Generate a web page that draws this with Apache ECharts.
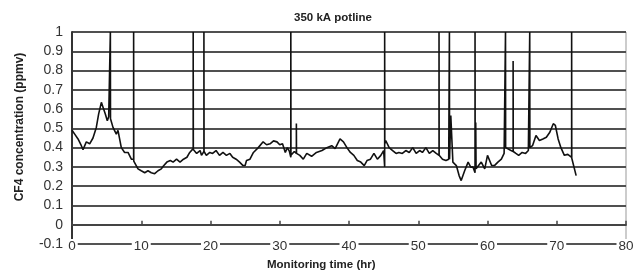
<!DOCTYPE html>
<html>
<head>
<meta charset="utf-8">
<script src="https://cdn.jsdelivr.net/npm/echarts@6/dist/echarts.min.js"></script>
<style>
html, body { margin: 0; padding: 0; background: #fff; }
#main { width: 639px; height: 273px; }
</style>
</head>
<body>
<div id="main"></div>
<script>
// monitoring time (hr) and CF4 concentration (ppmv);
// the tall spikes (anode effects) run off the top of the scale
var hours = [
    0, 0.39, 0.87, 1.35, 1.59, 2.07, 2.55, 3.03, 3.51, 3.85, 4.24, 4.48, 4.81, 5.1, 5.3,
    5.54, 5.54, 5.56, 5.92, 6.4, 6.64, 7.12, 7.6, 8.09, 8.57,
    8.9, 8.9, 8.92, 9.05, 9.53, 10.0, 10.5, 10.97, 11.45, 11.94, 12.2, 12.42, 12.9,
    13.2, 13.7, 14.2, 14.6, 15.1, 15.6, 16.1, 16.6, 17.0,
    17.5, 17.5, 17.52, 18.0, 18.5, 18.7,
    19.05, 19.05, 19.07, 19.4, 19.9, 20.3, 20.8, 21.3, 21.8, 22.3, 22.8, 23.2, 23.7, 24.2, 24.7,
    25.0, 25.2, 25.7, 26.2, 26.9, 27.6, 28.1, 28.6, 29.1, 29.6, 30.0, 30.4, 30.8, 31.1, 31.4,
    31.6, 31.6, 31.62, 32.1, 32.4, 32.4, 32.42, 32.9, 33.4, 33.9, 34.6, 35.3, 36.1, 36.8,
    37.5, 38.0, 38.7, 39.2, 39.7, 40.2, 40.7, 41.2, 41.7, 42.2, 42.6, 43.1, 43.6, 44.1, 44.6, 45.0,
    45.15, 45.15, 45.17, 45.3, 45.8, 46.3, 46.8, 47.2, 47.7, 48.2, 48.7, 49.2, 49.7, 50.2, 50.6,
    51.1, 51.6, 52.1, 52.6,
    53.0, 53.0, 53.02, 53.5, 54.0, 54.4,
    54.5, 54.5, 54.52, 54.7, 55.0, 55.5, 55.9, 56.2, 56.7, 57.2, 57.6, 57.9,
    58.2, 58.2, 58.22, 58.3, 58.35, 58.6, 59.1, 59.6, 60.0, 60.6, 61.0, 61.5, 62.0, 62.4,
    62.6, 62.6, 62.62, 62.9, 63.4, 63.7, 63.7, 63.72, 64.1, 64.5, 65.0, 65.5, 65.9,
    66.1, 66.1, 66.12, 66.5, 67.0, 67.5, 68.0, 68.5, 69.0, 69.5, 69.8, 70.2, 70.6, 71.1, 71.6,
    72.15, 72.15, 72.17, 72.4, 72.8
];
var cf4 = [
    0.49, 0.47, 0.445, 0.41, 0.39, 0.43, 0.42, 0.45, 0.505, 0.575, 0.635, 0.61, 0.575, 0.54, 0.56,
    0.57, 1, 0.55, 0.505, 0.47, 0.49, 0.40, 0.375, 0.375, 0.34,
    0.34, 1, 0.33, 0.325, 0.29, 0.28, 0.27, 0.28, 0.27, 0.265, 0.255, 0.28, 0.29,
    0.305, 0.325, 0.333, 0.325, 0.34, 0.325, 0.34, 0.35, 0.375,
    0.395, 1, 0.39, 0.37, 0.385, 0.36,
    0.38, 1, 0.38, 0.36, 0.375, 0.37, 0.385, 0.36, 0.375, 0.36, 0.37, 0.35, 0.34, 0.325, 0.307,
    0.307, 0.333, 0.34, 0.375, 0.40, 0.43, 0.415, 0.42, 0.435, 0.43, 0.415, 0.42, 0.375, 0.40, 0.38,
    0.35, 1, 0.36, 0.38, 0.37, 0.525, 0.37, 0.36, 0.34, 0.37, 0.355, 0.375, 0.385, 0.40,
    0.41, 0.395, 0.445, 0.43, 0.40, 0.375, 0.36, 0.333, 0.325, 0.307, 0.333, 0.34, 0.37, 0.34, 0.36, 0.385,
    0.30, 1, 0.42, 0.437, 0.40, 0.385, 0.37, 0.375, 0.37, 0.385, 0.375, 0.40, 0.37, 0.385, 0.375,
    0.40, 0.37, 0.385, 0.37,
    0.36, 1, 0.36, 0.34, 0.333, 0.34,
    0.34, 1, 0.34, 0.567, 0.325, 0.307, 0.255, 0.229, 0.28, 0.325, 0.298, 0.30,
    0.27, 1, 0.30, 0.53, 0.29, 0.29, 0.325, 0.29, 0.36, 0.307, 0.307, 0.325, 0.34, 0.37,
    0.38, 1, 0.40, 0.395, 0.385, 0.38, 0.85, 0.38, 0.37, 0.36, 0.375, 0.37, 0.385,
    0.39, 1, 0.40, 0.41, 0.463, 0.437, 0.445, 0.454, 0.48, 0.524, 0.515, 0.445, 0.40, 0.36, 0.365,
    0.35, 1, 0.345, 0.34, 0.255
];
var xTicks = [0, 80, 10];     // min, max, step
var yTicks = [-0.1, 1, 0.1];

var chart = echarts.init(document.getElementById('main'));

var points = [];
for (var i = 0; i < hours.length; i++) {
    points.push([hours[i], cf4[i]]);
}

var option = {
    animation: false,
    backgroundColor: '#fff',
    textStyle: { fontFamily: 'Liberation Sans, Arial, sans-serif' },
    title: [{
        text: '350 kA potline',
        left: 294,
        top: 12,
        padding: 0,
        textStyle: { fontSize: 11.5, fontWeight: 'bold', color: '#222' }
    }, {
        text: 'Monitoring time (hr)',
        left: 267,
        top: 259,
        padding: 0,
        textStyle: { fontSize: 11.5, fontWeight: 'bold', color: '#222' }
    }],
    graphic: [{
        type: 'text',
        x: 20,
        y: 127,
        rotation: Math.PI / 2,
        style: {
            text: 'CF4 concentration (ppmv)',
            font: 'bold 12px Liberation Sans, Arial, sans-serif',
            fill: '#222',
            align: 'center',
            verticalAlign: 'middle'
        }
    }],
    grid: {
        left: 72,
        right: 13,
        top: 32,
        bottom: 29,
        show: true,
        borderColor: '#999',
        borderWidth: 1
    },
    xAxis: [{
        type: 'value',
        min: xTicks[0],
        max: xTicks[1],
        interval: xTicks[2],
        position: 'bottom',
        axisLine: { show: true, onZero: false, lineStyle: { color: '#555', width: 1.5 } },
        axisTick: { show: false },
        splitLine: { show: false },
        axisLabel: {
            margin: -5,
            fontSize: 13.5,
            color: '#333',
            backgroundColor: '#fff',
            padding: [0, 2, 0, 2]
        },
        z: 5
    }, {
        type: 'value',
        min: xTicks[0],
        max: xTicks[1],
        interval: xTicks[2],
        position: 'bottom',
        axisLine: { show: true, onZero: true, lineStyle: { color: '#444', width: 1.8 } },
        axisTick: { show: true, inside: true, length: 4, lineStyle: { color: '#444', width: 1.5 } },
        axisLabel: { show: false },
        splitLine: { show: false }
    }],
    yAxis: {
        type: 'value',
        min: yTicks[0],
        max: yTicks[1],
        interval: yTicks[2],
        axisLine: { show: true, lineStyle: { color: '#333', width: 2 } },
        axisTick: { show: false },
        axisLabel: {
            margin: 9,
            fontSize: 14,
            color: '#333',
            formatter: function (v) {
                return String(Math.round(v * 10) / 10);
            }
        },
        splitLine: { show: true, lineStyle: { color: '#505050', width: 1.9 } }
    },
    series: [{
        name: 'CF4',
        type: 'line',
        xAxisIndex: 0,
        showSymbol: false,
        symbol: 'none',
        data: points,
        lineStyle: { color: '#111', width: 1.6 },
        z: 3
    }]
};

chart.setOption(option);
</script>
</body>
</html>
